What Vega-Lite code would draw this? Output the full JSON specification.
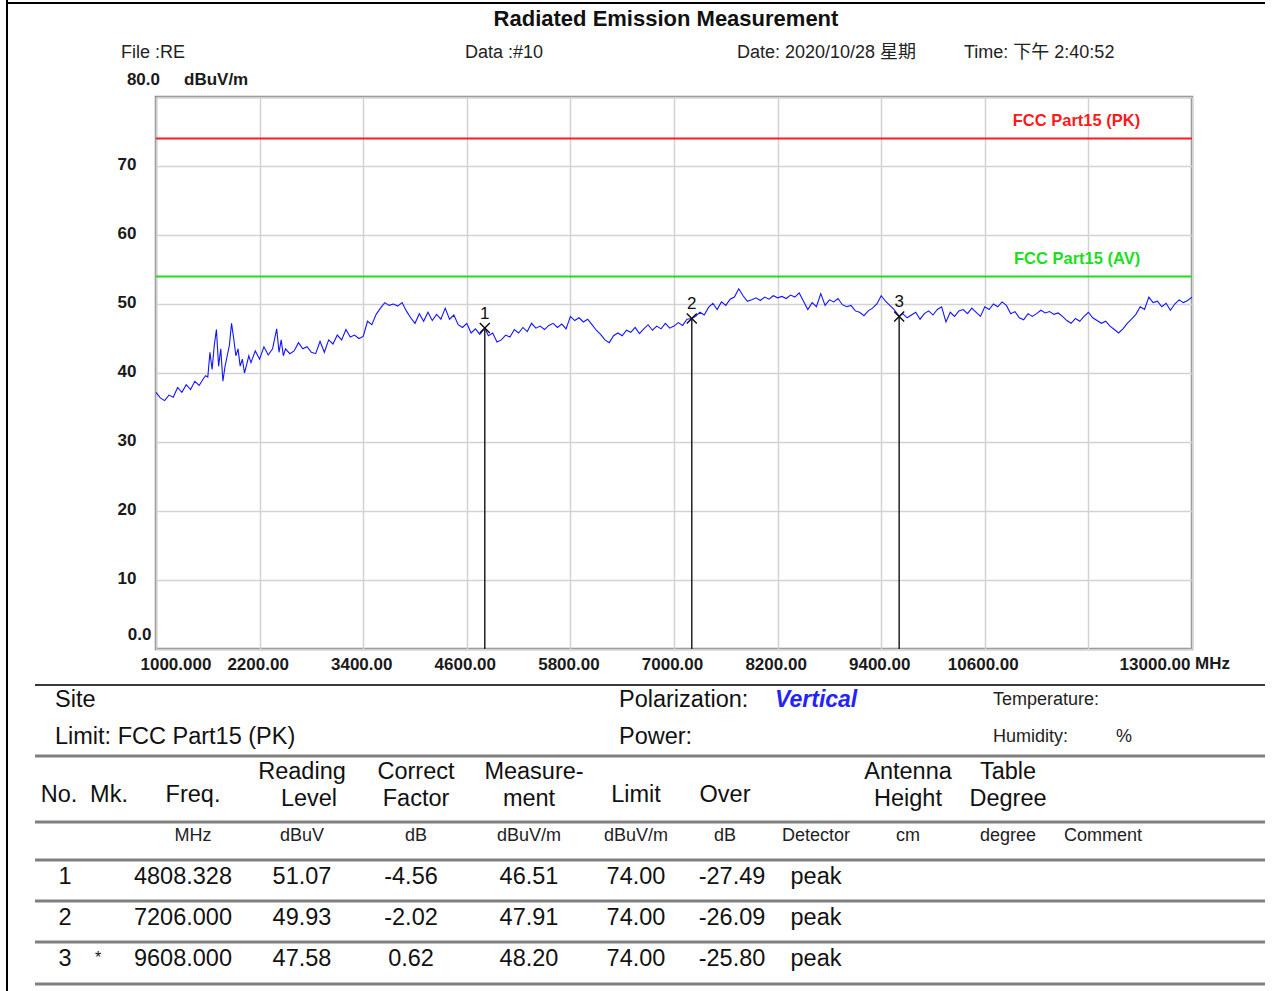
{
"$schema":"https://vega.github.io/schema/vega-lite/v6.json",
"width":1036,"height":552,
"padding":{"left":156,"top":97,"right":83,"bottom":342},
"autosize":{"type":"none"},
"background":"white",
"config":{"view":{"stroke":"#8a8a8a","strokeWidth":2.5},"font":"Liberation Sans, Arial, Noto Sans CJK SC, sans-serif","text":{"font":"Liberation Sans, Arial, Noto Sans CJK SC, sans-serif"}},
"datasets":{
"trace":[
{"f":1000,"v":37.2},{"f":1050,"v":36.4},{"f":1100,"v":36.0},{"f":1150,"v":36.8},{"f":1200,"v":36.5},{"f":1250,"v":37.9},{"f":1300,"v":37.2},{"f":1350,"v":38.3},{"f":1400,"v":37.6},{"f":1450,"v":38.8},{"f":1500,"v":38.2},{"f":1550,"v":39.2},{"f":1575,"v":39.6},{"f":1600,"v":39.4},{"f":1625,"v":43.0},{"f":1650,"v":40.5},{"f":1675,"v":44.0},{"f":1700,"v":46.3},{"f":1725,"v":41.0},{"f":1750,"v":43.5},{"f":1775,"v":38.8},{"f":1800,"v":41.0},{"f":1825,"v":42.5},{"f":1850,"v":44.0},{"f":1875,"v":47.2},{"f":1900,"v":45.0},{"f":1925,"v":42.5},{"f":1950,"v":43.5},{"f":1975,"v":41.0},{"f":2000,"v":42.0},{"f":2025,"v":40.0},{"f":2050,"v":41.2},{"f":2075,"v":42.5},{"f":2100,"v":41.5},{"f":2150,"v":43.2},{"f":2200,"v":42.0},{"f":2250,"v":43.8},{"f":2300,"v":42.6},{"f":2350,"v":43.5},{"f":2398,"v":46.4},{"f":2425,"v":43.0},{"f":2450,"v":44.8},{"f":2475,"v":42.5},{"f":2500,"v":43.5},{"f":2550,"v":42.8},{"f":2600,"v":43.2},{"f":2650,"v":44.4},{"f":2700,"v":43.5},{"f":2750,"v":43.8},{"f":2800,"v":43.0},{"f":2850,"v":42.8},{"f":2900,"v":44.6},{"f":2950,"v":43.0},{"f":3000,"v":44.8},{"f":3050,"v":44.2},{"f":3100,"v":45.5},{"f":3150,"v":44.8},{"f":3200,"v":46.3},{"f":3250,"v":45.2},{"f":3300,"v":45.5},{"f":3350,"v":45.0},{"f":3400,"v":45.3},{"f":3450,"v":47.5},{"f":3500,"v":47.0},{"f":3550,"v":48.5},{"f":3600,"v":49.4},{"f":3650,"v":50.2},{"f":3700,"v":49.8},{"f":3750,"v":50.0},{"f":3800,"v":49.7},{"f":3850,"v":50.2},{"f":3900,"v":49.0},{"f":3950,"v":48.0},{"f":4000,"v":47.2},{"f":4050,"v":48.6},{"f":4100,"v":47.5},{"f":4150,"v":48.8},{"f":4200,"v":47.6},{"f":4250,"v":48.5},{"f":4300,"v":47.8},{"f":4350,"v":49.4},{"f":4400,"v":47.8},{"f":4450,"v":48.4},{"f":4500,"v":47.0},{"f":4550,"v":46.6},{"f":4600,"v":47.2},{"f":4650,"v":45.8},{"f":4700,"v":46.4},{"f":4750,"v":45.6},{"f":4808.328,"v":46.51},{"f":4850,"v":45.4},{"f":4900,"v":45.8},{"f":4950,"v":44.5},{"f":5000,"v":44.8},{"f":5050,"v":45.5},{"f":5100,"v":45.2},{"f":5150,"v":46.3},{"f":5200,"v":45.8},{"f":5250,"v":46.6},{"f":5300,"v":46.0},{"f":5350,"v":47.2},{"f":5400,"v":46.5},{"f":5450,"v":46.8},{"f":5500,"v":46.3},{"f":5550,"v":46.9},{"f":5600,"v":47.2},{"f":5650,"v":46.6},{"f":5700,"v":47.1},{"f":5750,"v":46.4},{"f":5800,"v":48.2},{"f":5850,"v":47.6},{"f":5900,"v":48.0},{"f":5950,"v":47.4},{"f":6000,"v":47.8},{"f":6050,"v":47.0},{"f":6100,"v":46.2},{"f":6150,"v":45.6},{"f":6200,"v":44.8},{"f":6250,"v":44.4},{"f":6300,"v":45.4},{"f":6350,"v":45.8},{"f":6400,"v":45.4},{"f":6450,"v":46.2},{"f":6500,"v":45.9},{"f":6550,"v":46.6},{"f":6600,"v":45.7},{"f":6650,"v":46.4},{"f":6700,"v":47.0},{"f":6750,"v":46.2},{"f":6800,"v":46.8},{"f":6850,"v":46.4},{"f":6900,"v":47.2},{"f":6950,"v":46.5},{"f":7000,"v":46.8},{"f":7050,"v":47.3},{"f":7100,"v":46.9},{"f":7150,"v":47.8},{"f":7206,"v":47.91},{"f":7250,"v":48.2},{"f":7300,"v":48.8},{"f":7350,"v":48.4},{"f":7400,"v":49.5},{"f":7450,"v":50.1},{"f":7500,"v":49.2},{"f":7550,"v":50.3},{"f":7600,"v":49.8},{"f":7650,"v":50.7},{"f":7700,"v":51.0},{"f":7750,"v":52.2},{"f":7800,"v":51.2},{"f":7850,"v":50.4},{"f":7900,"v":50.6},{"f":7950,"v":50.9},{"f":8000,"v":50.5},{"f":8050,"v":51.0},{"f":8100,"v":50.7},{"f":8150,"v":51.2},{"f":8200,"v":50.9},{"f":8250,"v":51.1},{"f":8300,"v":50.8},{"f":8350,"v":51.3},{"f":8400,"v":51.0},{"f":8450,"v":51.6},{"f":8500,"v":50.4},{"f":8550,"v":49.2},{"f":8600,"v":50.2},{"f":8650,"v":49.6},{"f":8700,"v":51.5},{"f":8750,"v":49.8},{"f":8800,"v":50.6},{"f":8850,"v":50.3},{"f":8900,"v":50.8},{"f":8950,"v":49.9},{"f":9000,"v":49.6},{"f":9050,"v":49.8},{"f":9100,"v":49.0},{"f":9150,"v":48.8},{"f":9200,"v":48.3},{"f":9250,"v":49.0},{"f":9300,"v":49.4},{"f":9350,"v":50.0},{"f":9400,"v":51.2},{"f":9450,"v":50.4},{"f":9500,"v":49.8},{"f":9550,"v":49.2},{"f":9608,"v":48.2},{"f":9650,"v":48.6},{"f":9700,"v":48.0},{"f":9750,"v":48.4},{"f":9800,"v":48.8},{"f":9850,"v":47.8},{"f":9900,"v":48.6},{"f":9950,"v":49.0},{"f":10000,"v":48.4},{"f":10050,"v":49.2},{"f":10100,"v":49.6},{"f":10150,"v":47.4},{"f":10200,"v":48.8},{"f":10250,"v":48.2},{"f":10300,"v":49.0},{"f":10350,"v":49.2},{"f":10400,"v":48.6},{"f":10450,"v":49.4},{"f":10500,"v":48.8},{"f":10550,"v":48.2},{"f":10600,"v":49.6},{"f":10650,"v":49.2},{"f":10700,"v":50.0},{"f":10750,"v":49.6},{"f":10800,"v":50.3},{"f":10850,"v":49.8},{"f":10900,"v":48.6},{"f":10950,"v":48.9},{"f":11000,"v":48.0},{"f":11050,"v":47.7},{"f":11100,"v":48.6},{"f":11150,"v":48.2},{"f":11200,"v":48.6},{"f":11250,"v":49.1},{"f":11300,"v":48.7},{"f":11350,"v":48.9},{"f":11400,"v":48.5},{"f":11450,"v":48.7},{"f":11500,"v":48.2},{"f":11550,"v":47.6},{"f":11600,"v":47.2},{"f":11650,"v":47.9},{"f":11700,"v":47.5},{"f":11750,"v":48.2},{"f":11800,"v":48.8},{"f":11850,"v":48.0},{"f":11900,"v":47.6},{"f":11950,"v":47.2},{"f":12000,"v":47.5},{"f":12050,"v":46.8},{"f":12100,"v":46.3},{"f":12150,"v":45.8},{"f":12200,"v":46.4},{"f":12250,"v":47.2},{"f":12300,"v":47.8},{"f":12350,"v":48.5},{"f":12400,"v":49.6},{"f":12450,"v":49.2},{"f":12500,"v":51.0},{"f":12550,"v":50.2},{"f":12600,"v":50.4},{"f":12650,"v":49.6},{"f":12700,"v":50.1},{"f":12750,"v":49.1},{"f":12800,"v":50.0},{"f":12850,"v":50.6},{"f":12900,"v":50.2},{"f":12950,"v":50.5},{"f":13000,"v":51.0}
],
"limits":[{"name":"FCC Part15 (PK)","level":74},{"name":"FCC Part15 (AV)","level":54}],
"markers":[{"no":"1","freq":4808.328,"measure":46.51},{"no":"2","freq":7206.0,"measure":47.91},{"no":"3","freq":9608.0,"measure":48.2}],
"sheetRules":[
{"kind":"border","c":0,"c2":31,"r":1,"r2":1},
{"kind":"border","c":0,"c2":0,"r":0,"r2":20},
{"kind":"dark","c":1,"c2":31,"r":4,"r2":4},
{"kind":"gray","c":1,"c2":31,"r":7,"r2":7},
{"kind":"gray","c":1,"c2":31,"r":11,"r2":11},
{"kind":"gray","c":1,"c2":31,"r":13,"r2":13},
{"kind":"gray","c":1,"c2":31,"r":15,"r2":15},
{"kind":"gray","c":1,"c2":31,"r":17,"r2":17},
{"kind":"gray","c":1,"c2":31,"r":19,"r2":19}],
"sheetText":[
{"part":"title","c":19,"r":2,"t":"Radiated Emission Measurement"},
{"part":"meta","c":7,"r":3,"t":"File :RE"},
{"part":"meta","c":14,"r":3,"t":"Data :#10"},
{"part":"meta","c":22,"r":3,"t":"Date: 2020/10/28 星期"},
{"part":"meta","c":26,"r":3,"t":"Time: 下午 2:40:52"},
{"part":"info","c":2,"r":5,"t":"Site"},
{"part":"info","c":2,"r":6,"t":"Limit: FCC Part15 (PK)"},
{"part":"info","c":17,"r":5,"t":"Polarization:"},
{"part":"info","c":17,"r":6,"t":"Power:"},
{"part":"vertical","c":23,"r":5,"t":"Vertical"},
{"part":"small","c":27,"r":5,"t":"Temperature:"},
{"part":"small","c":27,"r":6,"t":"Humidity:"},
{"part":"small","c":30,"r":6,"t":"%"},
{"part":"head","c":3,"r":9,"t":"No."},
{"part":"head","c":6,"r":9,"t":"Mk."},
{"part":"head","c":9,"r":9,"t":"Freq."},
{"part":"head","c":10,"r":8,"t":"Reading"},
{"part":"head","c":11,"r":10,"t":"Level"},
{"part":"head","c":13,"r":8,"t":"Correct"},
{"part":"head","c":13,"r":10,"t":"Factor"},
{"part":"head","c":16,"r":8,"t":"Measure-"},
{"part":"head","c":15,"r":10,"t":"ment"},
{"part":"head","c":18,"r":9,"t":"Limit"},
{"part":"head","c":20,"r":9,"t":"Over"},
{"part":"head","c":25,"r":8,"t":"Antenna"},
{"part":"head","c":25,"r":10,"t":"Height"},
{"part":"head","c":28,"r":8,"t":"Table"},
{"part":"head","c":28,"r":10,"t":"Degree"},
{"part":"unit","c":9,"r":12,"t":"MHz"},
{"part":"unit","c":10,"r":12,"t":"dBuV"},
{"part":"unit","c":13,"r":12,"t":"dB"},
{"part":"unit","c":15,"r":12,"t":"dBuV/m"},
{"part":"unit","c":18,"r":12,"t":"dBuV/m"},
{"part":"unit","c":20,"r":12,"t":"dB"},
{"part":"unit","c":24,"r":12,"t":"Detector"},
{"part":"unit","c":25,"r":12,"t":"cm"},
{"part":"unit","c":28,"r":12,"t":"degree"},
{"part":"unit","c":29,"r":12,"t":"Comment"},
{"part":"cell","c":4,"r":14,"t":"1"},
{"part":"cell","c":8,"r":14,"t":"4808.328"},
{"part":"cell","c":10,"r":14,"t":"51.07"},
{"part":"cell","c":12,"r":14,"t":"-4.56"},
{"part":"cell","c":15,"r":14,"t":"46.51"},
{"part":"cell","c":18,"r":14,"t":"74.00"},
{"part":"cell","c":21,"r":14,"t":"-27.49"},
{"part":"cell","c":24,"r":14,"t":"peak"},
{"part":"cell","c":4,"r":16,"t":"2"},
{"part":"cell","c":8,"r":16,"t":"7206.000"},
{"part":"cell","c":10,"r":16,"t":"49.93"},
{"part":"cell","c":12,"r":16,"t":"-2.02"},
{"part":"cell","c":15,"r":16,"t":"47.91"},
{"part":"cell","c":18,"r":16,"t":"74.00"},
{"part":"cell","c":21,"r":16,"t":"-26.09"},
{"part":"cell","c":24,"r":16,"t":"peak"},
{"part":"cell","c":4,"r":18,"t":"3"},
{"part":"star","c":5,"r":18,"t":"*"},
{"part":"cell","c":8,"r":18,"t":"9608.000"},
{"part":"cell","c":10,"r":18,"t":"47.58"},
{"part":"cell","c":12,"r":18,"t":"0.62"},
{"part":"cell","c":15,"r":18,"t":"48.20"},
{"part":"cell","c":18,"r":18,"t":"74.00"},
{"part":"cell","c":21,"r":18,"t":"-25.80"},
{"part":"cell","c":24,"r":18,"t":"peak"}
]
},
"layer":[
{
"layer":[
{"data":{"name":"trace"},"mark":{"type":"line","color":"#1414ff","strokeWidth":1.1},
"encoding":{
"x":{"field":"f","type":"quantitative","scale":{"domain":[1000,13000],"nice":false,"zero":false},
"axis":{"title":null,"values":[1000,2200,3400,4600,5800,7000,8200,9400,10600,11800,13000],"grid":true,"gridColor":"#d2d2d2","gridWidth":1.5,"domain":false,"ticks":false,"tickSize":0,"labelPadding":7,"labelFont":"Liberation Sans","labelFontWeight":"bold","labelFontSize":17,"labelColor":"#1a1a1a","labelOverlap":false,"labelBound":false,"labelFlush":false,
"labelExpr":"datum.value == 1000 ? '1000.000' : datum.value == 11800 ? '' : format(datum.value, '.2f')",
"labelAlign":{"condition":[{"test":"datum.value == 1000","value":"left"},{"test":"datum.value == 13000","value":"right"}],"value":"center"},
"labelOffset":{"condition":{"test":"datum.value == 1000","value":-16},"value":-2}}},
"y":{"field":"v","type":"quantitative","scale":{"domain":[0,80],"nice":false,"zero":false},
"axis":{"title":null,"values":[0,10,20,30,40,50,60,70,80],"grid":true,"gridColor":"#d2d2d2","gridWidth":1.5,"domain":false,"ticks":false,"tickSize":0,"labelFont":"Liberation Sans","labelFontWeight":"bold","labelFontSize":17,"labelColor":"#1a1a1a","labelOverlap":false,"labelBound":false,"labelFlush":false,
"labelExpr":"datum.value == 0 ? '0.0' : datum.value == 80 ? '' : datum.label",
"labelPadding":{"condition":{"test":"datum.value == 0","value":5},"value":20},
"labelOffset":{"condition":{"test":"datum.value == 0","value":-15},"value":-2}}}
}},
{"data":{"name":"limits"},"mark":{"type":"rule","strokeWidth":2},
"encoding":{"y":{"field":"level","type":"quantitative"},
"color":{"field":"name","type":"nominal","scale":{"domain":["FCC Part15 (PK)","FCC Part15 (AV)"],"range":["#ff1a1a","#19e019"]},"legend":null}}},
{"data":{"name":"limits"},"mark":{"type":"text","align":"right","baseline":"alphabetic","dy":-12,"fontSize":16.5,"fontWeight":"bold","font":"Liberation Sans"},
"encoding":{"x":{"datum":12400},"y":{"field":"level","type":"quantitative"},"text":{"field":"name"},
"color":{"field":"name","type":"nominal","legend":null}}},
{"data":{"name":"markers"},"mark":{"type":"rule","color":"#222222","strokeWidth":1.5},
"encoding":{"x":{"field":"freq","type":"quantitative"},"y":{"field":"measure","type":"quantitative"},"y2":{"datum":0}}},
{"data":{"name":"markers"},"mark":{"type":"point","shape":"M-1,-1L1,1M-1,1L1,-1","size":100,"filled":false,"color":"#111111","strokeWidth":1.5,"opacity":1},
"encoding":{"x":{"field":"freq","type":"quantitative"},"y":{"field":"measure","type":"quantitative"}}},
{"data":{"name":"markers"},"mark":{"type":"text","baseline":"middle","dy":-14,"fontSize":17,"color":"#111111","font":"Liberation Sans"},
"encoding":{"x":{"field":"freq","type":"quantitative"},"y":{"field":"measure","type":"quantitative"},"text":{"field":"no"}}},
{"data":{"values":[{}]},"mark":{"type":"text","align":"right","baseline":"middle","dx":4,"dy":-17,"fontSize":17,"fontWeight":"bold","color":"#1a1a1a","font":"Liberation Sans"},
"encoding":{"x":{"datum":1000},"y":{"datum":80},"text":{"value":"80.0"}}},
{"data":{"values":[{}]},"mark":{"type":"text","align":"left","baseline":"middle","dx":28,"dy":-17,"fontSize":17,"fontWeight":"bold","color":"#1a1a1a","font":"Liberation Sans"},
"encoding":{"x":{"datum":1000},"y":{"datum":80},"text":{"value":"dBuV/m"}}},
{"data":{"values":[{}]},"mark":{"type":"text","align":"left","baseline":"middle","dx":3,"dy":15,"fontSize":17,"fontWeight":"bold","color":"#1a1a1a","font":"Liberation Sans"},
"encoding":{"x":{"datum":13000},"y":{"datum":0},"text":{"value":"MHz"}}}
]
},
{
"encoding":{
"x":{"field":"c","type":"quantitative","axis":null,"scale":{"nice":false,"zero":false,
"domain":[0,1,2,3,4,5,6,7,8,9,10,11,12,13,14,15,16,17,18,19,20,21,22,23,24,25,26,27,28,29,30,31],
"range":[-149,-121,-101,-97,-91,-58,-47,-35,27,37,146,153,255,260,309,373,378,463,480,510,569,576,581,619,660,752,808,837,852,947,960,1109]}},
"y":{"field":"r","type":"quantitative","axis":null,"scale":{"nice":false,"zero":false,
"domain":[0,1,2,3,4,5,6,7,8,9,10,11,12,13,14,15,16,17,18,19,20],
"range":[-97,-94,-78,-44,588,603,640,659,675,698,702,725,739,763,780,804,821,845,862,887,894]}}
},
"layer":[
{"data":{"name":"sheetRules"},"transform":[{"filter":"datum.kind == 'gray'"}],"mark":{"type":"rule","color":"#808080","strokeWidth":3},
"encoding":{"x2":{"field":"c2"},"y2":{"field":"r2"}}},
{"data":{"name":"sheetRules"},"transform":[{"filter":"datum.kind == 'dark'"}],"mark":{"type":"rule","color":"#3a3a3a","strokeWidth":2},
"encoding":{"x2":{"field":"c2"},"y2":{"field":"r2"}}},
{"data":{"name":"sheetRules"},"transform":[{"filter":"datum.kind == 'border'"}],"mark":{"type":"rule","color":"#000000","strokeWidth":2},
"encoding":{"x2":{"field":"c2"},"y2":{"field":"r2"}}},
{"data":{"name":"sheetText"},"transform":[{"filter":"datum.part == 'title'"}],"mark":{"type":"text","align":"center","baseline":"middle","fontSize":22,"fontWeight":"bold","color":"#111111"},"encoding":{"text":{"field":"t"}}},
{"data":{"name":"sheetText"},"transform":[{"filter":"datum.part == 'meta'"}],"mark":{"type":"text","align":"left","baseline":"middle","fontSize":18,"color":"#222222"},"encoding":{"text":{"field":"t"}}},
{"data":{"name":"sheetText"},"transform":[{"filter":"datum.part == 'info'"}],"mark":{"type":"text","align":"left","baseline":"middle","fontSize":23.5,"color":"#111111"},"encoding":{"text":{"field":"t"}}},
{"data":{"name":"sheetText"},"transform":[{"filter":"datum.part == 'vertical'"}],"mark":{"type":"text","align":"left","baseline":"middle","fontSize":23,"fontWeight":"bold","fontStyle":"italic","color":"#2323ff"},"encoding":{"text":{"field":"t"}}},
{"data":{"name":"sheetText"},"transform":[{"filter":"datum.part == 'small'"}],"mark":{"type":"text","align":"left","baseline":"middle","fontSize":18,"color":"#222222"},"encoding":{"text":{"field":"t"}}},
{"data":{"name":"sheetText"},"transform":[{"filter":"datum.part == 'head'"}],"mark":{"type":"text","align":"center","baseline":"middle","fontSize":23.5,"color":"#111111"},"encoding":{"text":{"field":"t"}}},
{"data":{"name":"sheetText"},"transform":[{"filter":"datum.part == 'unit'"}],"mark":{"type":"text","align":"center","baseline":"middle","fontSize":18,"color":"#222222"},"encoding":{"text":{"field":"t"}}},
{"data":{"name":"sheetText"},"transform":[{"filter":"datum.part == 'cell'"}],"mark":{"type":"text","align":"center","baseline":"middle","fontSize":23.5,"color":"#111111"},"encoding":{"text":{"field":"t"}}},
{"data":{"name":"sheetText"},"transform":[{"filter":"datum.part == 'star'"}],"mark":{"type":"text","align":"center","baseline":"middle","dy":-1,"fontSize":16,"color":"#111111"},"encoding":{"text":{"field":"t"}}}
]
}
],
"resolve":{"scale":{"x":"independent","y":"independent","color":"independent"}}
}
